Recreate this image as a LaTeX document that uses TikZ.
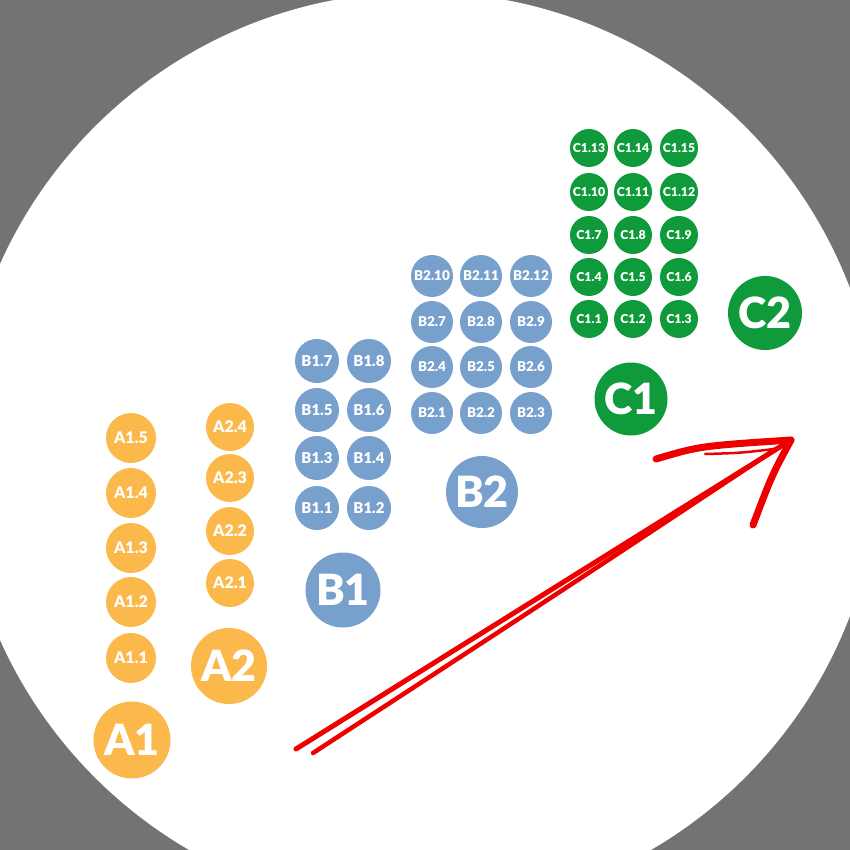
\documentclass[tikz,border=0pt]{standalone}
\usepackage{fontspec}
\setmainfont{Lato}[BoldFont={Lato Black}]
\definecolor{bggray}{HTML}{737373}
\definecolor{orng}{HTML}{FBB94C}
\definecolor{blu}{HTML}{78A0CD}
\definecolor{grn}{HTML}{0F9B3B}
\definecolor{arrowred}{HTML}{EE0000}
\tikzset{
  dot/.style={circle, inner sep=0pt, text=white, font=\bfseries},
  adot/.style={dot, fill=orng, minimum size=50pt, font=\bfseries\fontsize{16}{16}\selectfont},
  bdot/.style={dot, fill=blu, minimum size=44pt, font=\bfseries\fontsize{15}{15}\selectfont},
  bbdot/.style={dot, fill=blu, minimum size=42pt, font=\bfseries\fontsize{13.5}{13.5}\selectfont},
  cdot/.style={dot, fill=grn, minimum size=38pt, font=\bfseries\fontsize{12.3}{12.3}\selectfont},
  bigdot/.style={dot, minimum size=74pt, font=\bfseries\fontsize{43}{43}\selectfont},
  redline/.style={arrowred, line width=4pt, line cap=round, line join=round}
}
\begin{document}
\begin{tikzpicture}[x=1pt, y=-1pt]
    \fill[bggray] (0,0) rectangle (850,850);
    \useasboundingbox (0,0) rectangle (850,850);
    \fill[white] (420,452) circle (460);
    % level A
    \foreach \n/\y in {1/658,2/602,3/548,4/493,5/438}
        \node[adot] (a1-\n) at (131,\y) {A1.\n};
    \foreach \n/\y in {1/583,2/531,3/478,4/427}
        \node[adot, minimum size=48pt] (a2-\n) at (230,\y) {A2.\n};
    \node[bigdot, fill=orng, minimum size=77pt] (A1) at (132,740) {A1};
    \node[bigdot, fill=orng, minimum size=76pt] (A2) at (229,666) {A2};
    % level B
    \foreach \c/\x in {1/317,2/369}
        \foreach \r/\y in {0/508,1/458,2/410,3/361}{
            \pgfmathtruncatemacro\n{2*\r+\c}
            \node[bdot] (b1-\n) at (\x,\y) {B1.\n};
        }
    \foreach \c/\x in {1/432,2/481,3/531}
        \foreach \r/\y in {0/413,1/367,2/322,3/276}{
            \pgfmathtruncatemacro\n{3*\r+\c}
            \node[bbdot] (b2-\n) at (\x,\y) {B2.\n};
        }
    \node[bigdot, fill=blu, minimum size=75pt] (B1) at (343,590) {B1};
    \node[bigdot, fill=blu, minimum size=72pt] (B2) at (482,492) {B2};
    % level C
    \foreach \c/\x in {1/589,2/633,3/679}
        \foreach \r/\y in {0/319,1/277,2/235,3/192,4/148}{
            \pgfmathtruncatemacro\n{3*\r+\c}
            \node[cdot] (c1-\n) at (\x,\y) {C1.\n};
        }
    \node[bigdot, fill=grn, minimum size=73pt] (C1) at (631,399) {C1};
    \node[bigdot, fill=grn, minimum size=74pt] (C2) at (765,313) {C2};
    % hand drawn arrow
    \coordinate (tail1) at (296,749);
    \coordinate (tail2) at (313,753);
    \coordinate (tip) at (791,440);
    \coordinate (shaftend) at (776,449);
    \coordinate (barbl) at (656,459);
    \coordinate (barbr) at (753,525);
    \draw[redline, line width=5pt] (tail1) -- (tip);
    \draw[redline, line width=4.5pt] (tail2) .. controls (560,592) .. (shaftend);
    \draw[redline, line width=7pt] (barbl) .. controls (700,446) .. (tip);
    \draw[redline, line width=2.5pt] (705,454) .. controls (740,453) .. (774,449);
    \draw[redline, line width=7pt] (tip) .. controls (772,475) .. (barbr);
\end{tikzpicture}
\end{document}
